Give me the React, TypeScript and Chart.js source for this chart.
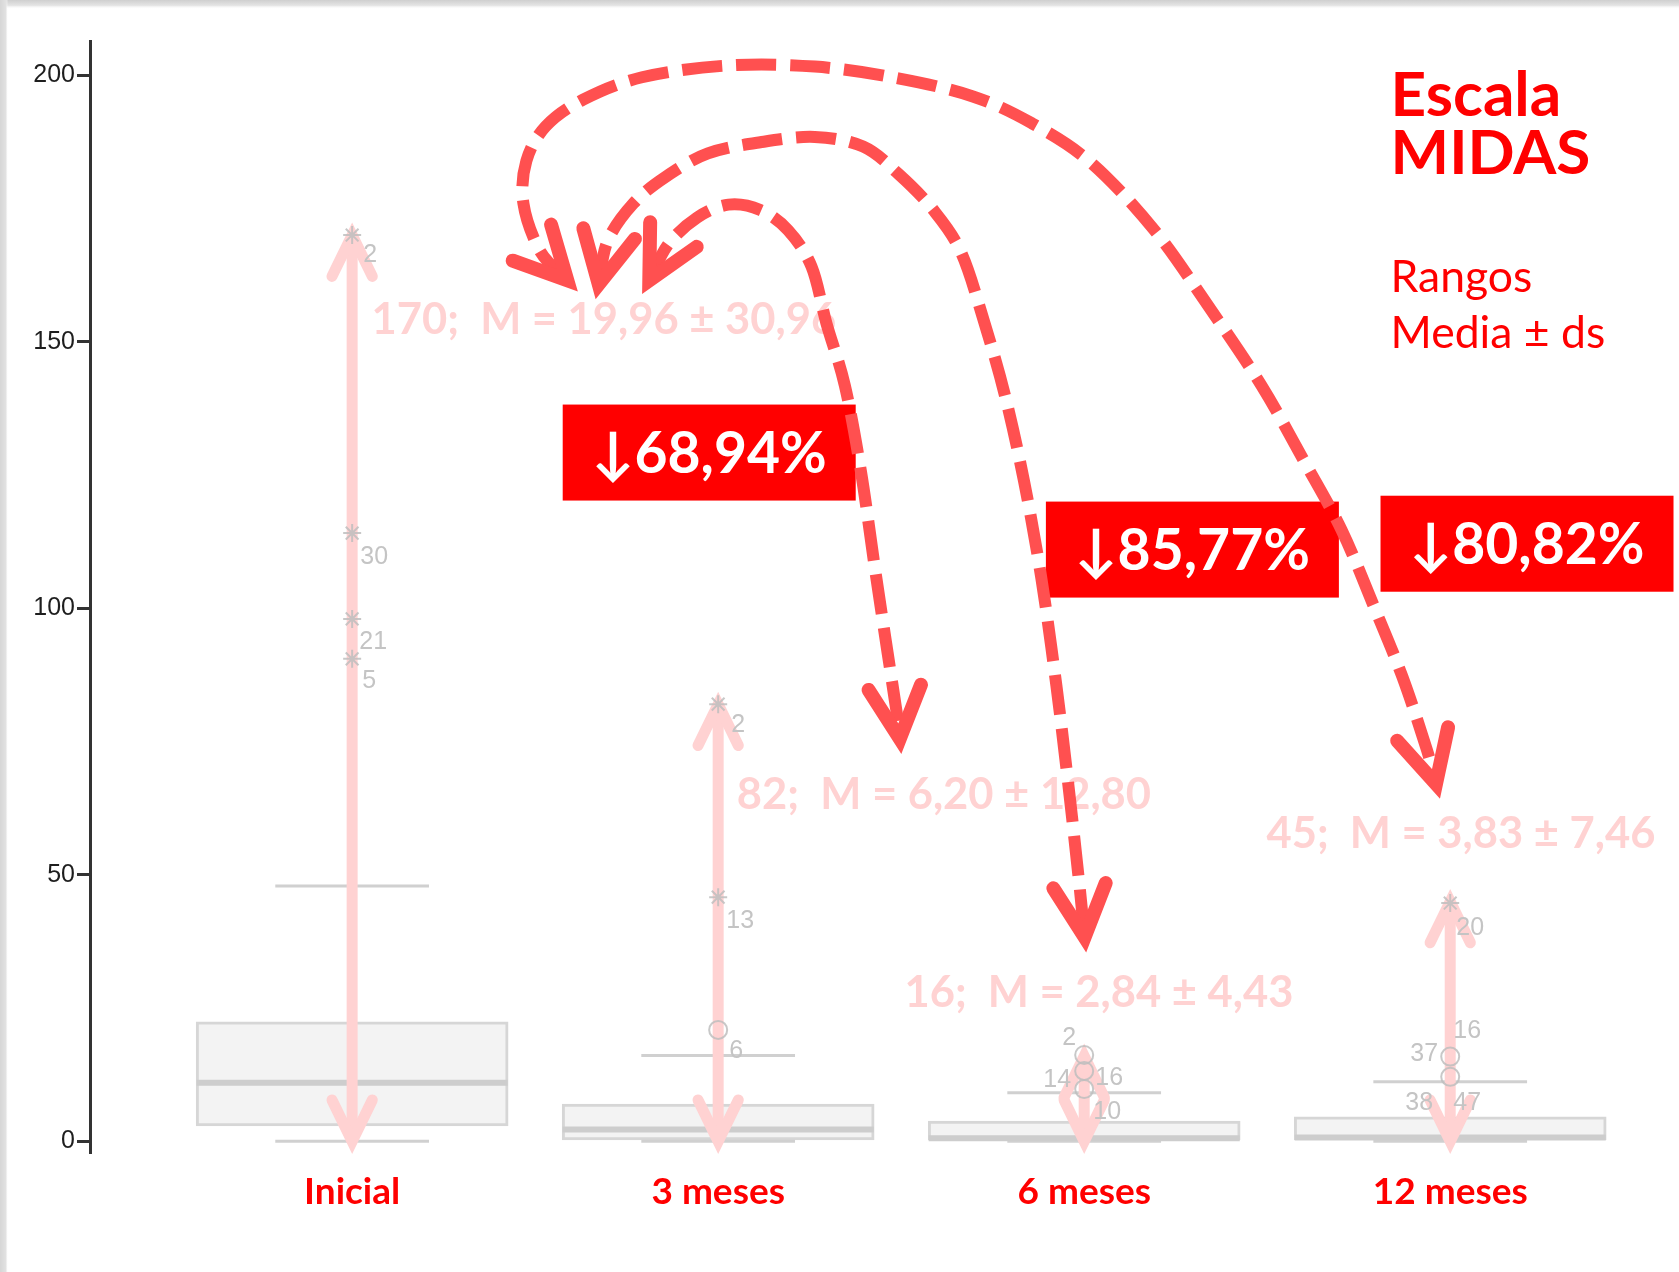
import { useEffect, useRef } from 'react';
import { Chart, registerables } from 'chart.js';

Chart.register(...registerables);

// ---------------- data ----------------
const categories = ['Inicial', '3 meses', '6 meses', '12 meses'];
const boxQ1 = [2.9, 0, 0, 0.3];
const boxQ3 = [22.4, 7.0, 3.8, 4.6];
const boxMedian = [11.0, 2.2, 0.6, 0.7];
const whiskerLow = [0, 0, 0, 0];
const whiskerHigh = [47.9, 16.1, 9.1, 11.2];
const rangeMax = [170, 82, 16, 45];
const meanText = ['19,96', '6,20', '2,84', '3,83'];
const sdText = ['30,96', '12,80', '4,43', '7,46'];
const reductionText = ['68,94%', '85,77%', '80,82%'];
const outlierGroup = [0, 0, 0, 0, 1, 1, 1, 2, 2, 2, 3, 3, 3];
const outlierValue = [170, 114.1, 98, 90.5, 82, 45.8, 20.9, 16.2, 13.2, 9.8, 44.7, 15.9, 12.1];
const outlierExtreme = [true, true, true, true, true, true, false, false, false, false, true, false, false];
const caseText = ['2', '30', '21', '5', '2', '13', '6', '2', '14', '16', '10', '20', '37', '16', '38', '47'];
const caseOf = [0, 1, 2, 3, 4, 5, 6, 7, 8, 8, 9, 10, 11, 11, 12, 12];
const yTicks = [0, 50, 100, 150, 200];
const titleLines = ['Escala', 'MIDAS'];
const noteLines = ['Rangos', 'Media \u00b1 ds'];

// ---------------- annotation layout (category units / value units) ----------------
const CASE_OFFSET = [
  [18, 20], [22, 24], [21, 23], [17, 22], [20, 21], [22, 24], [18, 21],
  [-15, -17], [-27, 9], [25, 7], [23, 23], [20, 25], [-26, -2], [17, -25], [-31, 26], [17, 26],
];
const PINK_TEXT_AT = [[0.053, 154.4], [1.051, 65.3], [1.509, 28.1], [2.498, 58.0]];
const RED_BOX_AT = [[0.9755, 129.2], [2.2956, 111.0], [3.2098, 112.1]];
const TITLE_AT = { x: 2.837, y: [192.3, 181.4], noteY: [159.3, 148.8] };
const ARCS: number[][][] = [
  [
    [0.614, 159.6], [0.514, 166.9], [0.468, 175.9], [0.476, 183.9], [0.529, 190.4], [0.631, 195.4],
    [0.792, 199.6], [1.025, 201.8], [1.264, 201.6], [1.492, 199.4], [1.696, 196.0], [1.856, 191.0],
    [2.02, 183.5], [2.192, 170.9], [2.338, 156.8], [2.484, 141.8], [2.6, 127.7], [2.703, 114.7],
    [2.79, 100.6], [2.869, 87.2], [2.936, 73.5], [2.971, 64.5],
  ],
  [
    [0.666, 158.2], [0.698, 168.9], [0.768, 175.9], [0.856, 180.9], [0.972, 185.3], [1.115, 187.4],
    [1.264, 188.4], [1.396, 186.6], [1.492, 181.5], [1.588, 174.7], [1.664, 166.7], [1.728, 153.4],
    [1.784, 139.8], [1.836, 123.7], [1.883, 105.6], [1.924, 85.5], [1.959, 65.5], [1.988, 47.4], [2.005, 35.7],
  ],
  [
    [0.794, 159.2], [0.864, 168.3], [0.943, 173.3], [1.028, 175.7], [1.115, 174.7], [1.191, 170.9],
    [1.255, 164.1], [1.296, 153.4], [1.346, 141.8], [1.39, 125.7], [1.428, 107.6], [1.463, 91.6],
    [1.492, 78.5], [1.5, 72.9],
  ],
];

const PINK = '#FFD2D2';
const ARC_RED = '#FF5050';
const RED = '#FF0000';
const GRAY_TXT = '#C4C4C4';
const AXIS_FONT = "'Liberation Sans Narrow', 'Liberation Sans', sans-serif";

function chevron(ctx: CanvasRenderingContext2D, vx: number, vy: number, ang: number, len: number, half: number, width: number, color: string) {
  const a1 = ang + Math.PI - half;
  const a2 = ang + Math.PI + half;
  ctx.save();
  ctx.setLineDash([]);
  ctx.beginPath();
  ctx.moveTo(vx + len * Math.cos(a1), vy + len * Math.sin(a1));
  ctx.lineTo(vx, vy);
  ctx.lineTo(vx + len * Math.cos(a2), vy + len * Math.sin(a2));
  ctx.lineWidth = width;
  ctx.strokeStyle = color;
  ctx.lineCap = 'round';
  ctx.lineJoin = 'miter';
  ctx.stroke();
  ctx.restore();
}

const annotate = {
  id: 'annotate',
  beforeDraw(chart: any) {
    const ctx = chart.ctx as CanvasRenderingContext2D;
    ctx.save();
    ctx.fillStyle = '#ffffff';
    ctx.fillRect(0, 0, chart.width, chart.height);
    const gt = ctx.createLinearGradient(0, 0, 0, 9);
    gt.addColorStop(0, '#cfcfcf');
    gt.addColorStop(0.6, '#e4e4e4');
    gt.addColorStop(1, 'rgba(255,255,255,0)');
    ctx.fillStyle = gt;
    ctx.fillRect(0, 0, chart.width, 9);
    const gl = ctx.createLinearGradient(0, 0, 8, 0);
    gl.addColorStop(0, '#d6d6d6');
    gl.addColorStop(0.75, '#e2e2e2');
    gl.addColorStop(1, 'rgba(255,255,255,0)');
    ctx.fillStyle = gl;
    ctx.fillRect(0, 0, 8, chart.height);
    ctx.restore();
  },
  afterDatasetDraw(chart: any, args: any) {
    const ds = chart.data.datasets[args.index];
    if (!ds || ds.role !== 'shaft') return;
    const ctx = chart.ctx as CanvasRenderingContext2D;
    const xs = chart.scales.x;
    const ys = chart.scales.y;
    const i = ds.cat;
    const px = xs.getPixelForValue(i);
    const half = (26 * Math.PI) / 180;
    chevron(ctx, px, ys.getPixelForValue(rangeMax[i]), -Math.PI / 2, 46, half, 11, PINK);
    chevron(ctx, px, ys.getPixelForValue(0), Math.PI / 2, 46, half, 11, PINK);
  },
  afterDatasetsDraw(chart: any) {
    const ctx = chart.ctx as CanvasRenderingContext2D;
    const xs = chart.scales.x;
    const ys = chart.scales.y;
    const X = (v: number) => xs.getPixelForValue(v);
    const Y = (v: number) => ys.getPixelForValue(v);
    ctx.save();

    // case numbers beside outliers
    ctx.font = `25px ${AXIS_FONT}`;
    ctx.fillStyle = GRAY_TXT;
    ctx.textAlign = 'center';
    ctx.textBaseline = 'middle';
    caseText.forEach((t, k) => {
      const m = caseOf[k];
      ctx.fillText(t, X(outlierGroup[m]) + CASE_OFFSET[k][0], Y(outlierValue[m]) + CASE_OFFSET[k][1]);
    });

    // pink range / mean labels
    const pinkSize = 43.5;
    ctx.font = `bold ${pinkSize}px Lato, 'DejaVu Sans', sans-serif`;
    ctx.fillStyle = PINK;
    ctx.textAlign = 'left';
    ctx.textBaseline = 'alphabetic';
    categories.forEach((_, i) => {
      const txt = `${rangeMax[i]};  M = ${meanText[i]} \u00b1 ${sdText[i]}`;
      ctx.fillText(txt, X(PINK_TEXT_AT[i][0]), Y(PINK_TEXT_AT[i][1]) + 0.36 * pinkSize);
    });

    // red reduction boxes
    const boxW = 293;
    const boxH = 96;
    const redSize = 57;
    reductionText.forEach((t, k) => {
      const cx = X(RED_BOX_AT[k][0]);
      const cy = Y(RED_BOX_AT[k][1]);
      ctx.fillStyle = RED;
      ctx.fillRect(cx - boxW / 2, cy - boxH / 2, boxW, boxH);
      ctx.fillStyle = '#ffffff';
      ctx.font = `bold ${redSize}px Lato, 'DejaVu Sans', sans-serif`;
      ctx.textAlign = 'center';
      ctx.fillText('\u2193' + t, cx, cy + 0.36 * redSize);
    });

    // dashed curved arrows
    ARCS.forEach((arc) => {
      const pts = arc.map((p) => [X(p[0]), Y(p[1])]);
      const n = pts.length;
      const vinset = 14;
      const sDir = Math.atan2(pts[0][1] - pts[1][1], pts[0][0] - pts[1][0]);
      const eDir = Math.atan2(pts[n - 1][1] - pts[n - 2][1], pts[n - 1][0] - pts[n - 2][0]);
      const s = [pts[0][0] - vinset * Math.cos(sDir), pts[0][1] - vinset * Math.sin(sDir)];
      const e = [pts[n - 1][0] - vinset * Math.cos(eDir), pts[n - 1][1] - vinset * Math.sin(eDir)];
      const P = [s, ...pts.slice(1, n - 1), e];
      ctx.beginPath();
      ctx.moveTo(P[0][0], P[0][1]);
      for (let i = 0; i < P.length - 1; i++) {
        const p0 = P[i - 1] || P[i];
        const p1 = P[i];
        const p2 = P[i + 1];
        const p3 = P[i + 2] || P[i + 1];
        ctx.bezierCurveTo(
          p1[0] + (p2[0] - p0[0]) / 6, p1[1] + (p2[1] - p0[1]) / 6,
          p2[0] - (p3[0] - p1[0]) / 6, p2[1] - (p3[1] - p1[1]) / 6,
          p2[0], p2[1],
        );
      }
      ctx.setLineDash([40, 14]);
      ctx.lineDashOffset = 0;
      ctx.lineWidth = 12;
      ctx.strokeStyle = ARC_RED;
      ctx.lineCap = 'butt';
      ctx.stroke();
      const half = (27 * Math.PI) / 180;
      chevron(ctx, s[0], s[1], sDir, 58, half, 14, ARC_RED);
      chevron(ctx, e[0], e[1], eDir, 58, half, 14, ARC_RED);
    });

    // title block
    ctx.setLineDash([]);
    ctx.fillStyle = RED;
    ctx.textAlign = 'left';
    ctx.textBaseline = 'alphabetic';
    ctx.font = "bold 62px Lato, 'DejaVu Sans', sans-serif";
    titleLines.forEach((t, k) => ctx.fillText(t, X(TITLE_AT.x), Y(TITLE_AT.y[k])));
    ctx.font = "44.5px Lato, 'DejaVu Sans', sans-serif";
    noteLines.forEach((t, k) => ctx.fillText(t, X(TITLE_AT.x), Y(TITLE_AT.noteY[k])));
    ctx.restore();
  },
};

function buildDatasets() {
  const datasets: any[] = [];
  datasets.push({
    type: 'bar',
    data: categories.map((_, i) => ({ x: i, y: [boxQ1[i], boxQ3[i]] })),
    backgroundColor: '#F3F3F3',
    borderColor: '#D6D6D6',
    borderWidth: 3,
    borderSkipped: false,
    barThickness: 312,
    grouped: false,
    order: 50,
  });
  const seg = (pts: any[], color: string, width: number, order: number, extra: any = {}) => ({
    type: 'line',
    data: pts,
    borderColor: color,
    borderWidth: width,
    pointRadius: 0,
    fill: false,
    tension: 0,
    order,
    ...extra,
  });
  categories.forEach((_, i) => {
    datasets.push(seg([{ x: i, y: boxQ3[i] }, { x: i, y: whiskerHigh[i] }], '#D3D3D3', 2, 46));
    datasets.push(seg([{ x: i, y: boxQ1[i] }, { x: i, y: whiskerLow[i] }], '#D3D3D3', 2, 46));
    datasets.push(seg([{ x: i - 0.21, y: whiskerHigh[i] }, { x: i + 0.21, y: whiskerHigh[i] }], '#D0D0D0', 3, 45));
    datasets.push(seg([{ x: i - 0.21, y: whiskerLow[i] }, { x: i + 0.21, y: whiskerLow[i] }], '#D0D0D0', 3, 45));
    datasets.push(seg([{ x: i - 0.425, y: boxMedian[i] }, { x: i + 0.425, y: boxMedian[i] }], '#CDCDCD', 6, 44));
  });
  categories.forEach((_, i) => {
    datasets.push(seg([{ x: i, y: 0 }, { x: i, y: rangeMax[i] }], PINK, 11, 30, { role: 'shaft', cat: i }));
  });
  datasets.push({
    type: 'scatter',
    data: outlierValue.map((v, k) => ({ x: outlierGroup[k], y: v })),
    pointStyle: outlierExtreme.map((e) => (e ? 'star' : 'circle')),
    pointRadius: 9,
    borderColor: 'rgba(190,190,190,0.85)',
    backgroundColor: 'rgba(255,255,255,0)',
    borderWidth: 2,
    order: 20,
  });
  return datasets;
}

export default function App() {
  const ref = useRef<HTMLCanvasElement | null>(null);
  useEffect(() => {
    document.body.style.margin = '0';
    let chart: Chart | null = null;
    let cancelled = false;
    const make = () => {
      if (cancelled || !ref.current) return;
      chart = new Chart(ref.current, {
        type: 'bar',
        data: { datasets: buildDatasets() } as any,
        options: {
          responsive: false,
          maintainAspectRatio: false,
          animation: false,
          events: [],
          layout: { padding: { top: 41, left: 0, right: 0, bottom: 0 } },
          plugins: { legend: { display: false }, tooltip: { enabled: false } },
          scales: {
            x: {
              type: 'linear',
              position: 'bottom',
              min: -0.7162,
              max: 3.595,
              offset: false,
              grid: { display: false, drawTicks: false },
              border: { display: false },
              afterBuildTicks: (s: any) => {
                s.ticks = categories.map((_, i) => ({ value: i }));
              },
              afterFit: (s: any) => {
                s.height = 120;
              },
              ticks: {
                autoSkip: false,
                maxRotation: 0,
                minRotation: 0,
                padding: 18,
                color: RED,
                font: { family: 'Lato', weight: 'bold', size: 37 },
                callback: (v: any) => categories[Math.round(Number(v))] ?? '',
              },
            },
            y: {
              type: 'linear',
              min: -2,
              max: 206.4,
              beginAtZero: false,
              grid: { drawOnChartArea: false, drawTicks: true, tickLength: 13, color: '#333333', lineWidth: 3 },
              border: { display: true, color: '#333333', width: 3 },
              afterBuildTicks: (s: any) => {
                s.ticks = yTicks.map((v) => ({ value: v }));
              },
              afterFit: (s: any) => {
                s.width = 90;
              },
              ticks: {
                padding: 2,
                color: '#1e1e1e',
                font: { family: AXIS_FONT, size: 25 },
                callback: (v: any) => String(v),
              },
            },
          },
        } as any,
        plugins: [annotate as any],
      });
    };
    const fonts = (document as any).fonts;
    if (fonts && fonts.load) {
      Promise.all([
        fonts.load('bold 44px Lato'),
        fonts.load('42px Lato'),
        fonts.load(`25px ${AXIS_FONT}`),
        fonts.load("54px 'DejaVu Sans'"),
      ]).then(make, make);
    } else {
      make();
    }
    return () => {
      cancelled = true;
      if (chart) chart.destroy();
    };
  }, []);
  return (
    <div style={{ width: 1679, height: 1272 }}>
      <canvas ref={ref} width={1679} height={1272} style={{ display: 'block' }} />
    </div>
  );
}
